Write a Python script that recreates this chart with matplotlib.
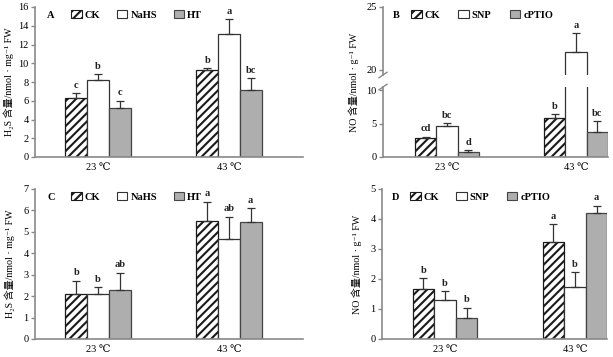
import matplotlib
matplotlib.use("Agg")
import matplotlib.pyplot as plt
import numpy as np

plt.rcParams['font.family'] = ['Liberation Serif', 'DejaVu Serif', 'Noto Sans CJK SC']
plt.rcParams['hatch.linewidth'] = 1.5

groups = ['23 ℃', '43 ℃']

# Panel A: H2S content
a_labels = ['CK', 'NaHS', 'HT']
a_vals = [[6.30, 9.27], [8.21, 13.13], [5.27, 7.15]]
a_errs = [[0.50, 0.18], [0.64, 1.56], [0.75, 1.24]]
a_letters = [['c', 'b'], ['b', 'a'], ['c', 'bc']]

# Panel B: NO content
b_labels = ['CK', 'SNP', 'cPTIO']
b_vals = [[2.82, 5.84], [4.60, 21.41], [0.79, 3.81]]
b_errs = [[0.25, 0.55], [0.45, 1.51], [0.20, 1.59]]
b_letters = [['cd', 'b'], ['bc', 'a'], ['d', 'bc']]

# Panel C: H2S content
c_labels = ['CK', 'NaHS', 'HT']
c_vals = [[2.11, 5.53], [2.11, 4.67], [2.30, 5.48]]
c_errs = [[0.61, 0.88], [0.30, 1.04], [0.80, 0.62]]
c_letters = [['b', 'a'], ['b', 'ab'], ['ab', 'a']]

# Panel D: NO content
d_labels = ['CK', 'SNP', 'cPTIO']
d_vals = [[1.67, 3.23], [1.29, 1.72], [0.70, 4.21]]
d_errs = [[0.36, 0.59], [0.30, 0.51], [0.35, 0.24]]
d_letters = [['b', 'a'], ['b', 'b'], ['b', 'a']]

SP = '#8a8a8a'
W = 0.166
FS = 7.5
YFS = 7.2
styles = [dict(facecolor='white', edgecolor='#1a1a1a', hatch='////'),
          dict(facecolor='white', edgecolor='#333333'),
          dict(facecolor='#aeaeae', edgecolor='#444444')]

fig = plt.figure(figsize=(6.13, 3.57), dpi=100)
FW, FH = 613, 357


def add_ax(l, t, r, b):
    return fig.add_axes([l / FW, 1 - b / FH, (r - l) / FW, (b - t) / FH])


def style_ax(ax, xlim, bottom=True):
    ax.set_xlim(*xlim)
    for s in ['top', 'right']:
        ax.spines[s].set_visible(False)
    for s in ['left', 'bottom']:
        ax.spines[s].set_color(SP)
        ax.spines[s].set_linewidth(1.2)
    ax.tick_params(axis='y', direction='out', length=3, width=1, color=SP,
                   labelsize=FS, pad=1.5)
    ax.tick_params(axis='x', length=0, labelsize=FS, pad=4)
    ax.set_xticks(np.arange(len(groups)))
    ax.set_xticklabels(groups)
    if not bottom:
        ax.spines['bottom'].set_visible(False)
        ax.tick_params(axis='x', labelbottom=False)
    ax.patch.set_alpha(0)


def draw_bars(ax, labels, vals, errs, letters, show_letters=True):
    x = np.arange(len(groups))
    conts = []
    for i, lab in enumerate(labels):
        xi = x + (i - 1) * W
        c = ax.bar(xi, vals[i], W, label=lab, linewidth=0.9, zorder=2, **styles[i])
        conts.append(c)
        ax.errorbar(xi, vals[i], yerr=[np.zeros(len(x)), errs[i]], fmt='none',
                    ecolor='#333333', elinewidth=0.9, capsize=2.8, capthick=0.9,
                    zorder=3)
        if show_letters:
            lo, hi = ax.get_ylim()
            for j in range(len(x)):
                top = vals[i][j] + errs[i][j]
                if lo <= top <= hi:
                    ax.annotate(letters[i][j], (xi[j], top), xytext=(0, 2.5),
                                textcoords='offset points', ha='center',
                                va='bottom', fontsize=FS, fontweight='bold',
                                color='#222222')
    return conts


def legend(ax, conts, tag, x0, cs, y0=0.945):
    ax.text(0.045, y0, tag, transform=ax.transAxes,
            fontsize=FS, fontweight='bold', va='center', ha='left')
    leg = ax.legend(handles=conts, ncol=3, loc='center left',
                    bbox_to_anchor=(x0, y0), frameon=False,
                    prop={'size': FS, 'weight': 'bold'}, handlelength=1.0,
                    handleheight=0.8, handletextpad=0.3, columnspacing=cs,
                    borderpad=0, borderaxespad=0)
    for h in leg.legend_handles:
        h.set_linewidth(0.8)


# Panel A
axA = add_ax(35, 7, 303, 157)
style_ax(axA, (-0.481, 1.565))
axA.set_ylim(0, 16)
axA.set_yticks(np.arange(0, 17, 2))
cA = draw_bars(axA, a_labels, a_vals, a_errs, a_letters)
legend(axA, cA, 'A', 0.135, 1.6)
axA.set_ylabel('H₂S 含量/nmol · mg⁻¹ FW', fontsize=YFS, labelpad=3)

# Panel C
axC = add_ax(35, 189, 303, 339)
style_ax(axC, (-0.481, 1.565))
axC.set_ylim(0, 7)
axC.set_yticks(np.arange(0, 8, 1))
cC = draw_bars(axC, c_labels, c_vals, c_errs, c_letters)
legend(axC, cC, 'C', 0.135, 1.6)
axC.set_ylabel('H₂S 含量/nmol · mg⁻¹ FW', fontsize=YFS, labelpad=6)

# Panel D
axD = add_ax(382, 189, 607, 339)
style_ax(axD, (-0.485, 1.246))
axD.set_ylim(0, 5)
axD.set_yticks(np.arange(0, 6, 1))
cD = draw_bars(axD, d_labels, d_vals, d_errs, d_letters)
legend(axD, cD, 'D', 0.125, 1.65)
axD.set_ylabel('NO 含量/nmol · g⁻¹ FW', fontsize=YFS, labelpad=6)

# Panel B (broken axis)
axBt = add_ax(383, 7, 608, 75)
axBb = add_ax(383, 87, 608, 157)
style_ax(axBt, (-0.496, 1.248), bottom=False)
style_ax(axBb, (-0.496, 1.248))
axBt.set_ylim(19.6, 25)
axBt.set_yticks([20, 25])
axBb.set_ylim(0, 10.5)
axBb.set_yticks([0, 5, 10])
cB = draw_bars(axBt, b_labels, b_vals, b_errs, b_letters)
draw_bars(axBb, b_labels, b_vals, b_errs, b_letters)
legend(axBt, cB, 'B', 0.125, 1.75, y0=0.88)
# break marks
d = 4
for ax, yy in [(axBt, 0.0), (axBb, 1.0)]:
    ax.plot([-d / 225, d / 225], [yy - 0.04, yy + 0.04], transform=ax.transAxes,
            color=SP, lw=1.0, clip_on=False)
fig.text(354 / FW, 1 - 82 / FH, 'NO 含量/nmol · g⁻¹ FW', rotation=90,
         fontsize=YFS, ha='center', va='center')

fig.savefig('out.png', dpi=100)
